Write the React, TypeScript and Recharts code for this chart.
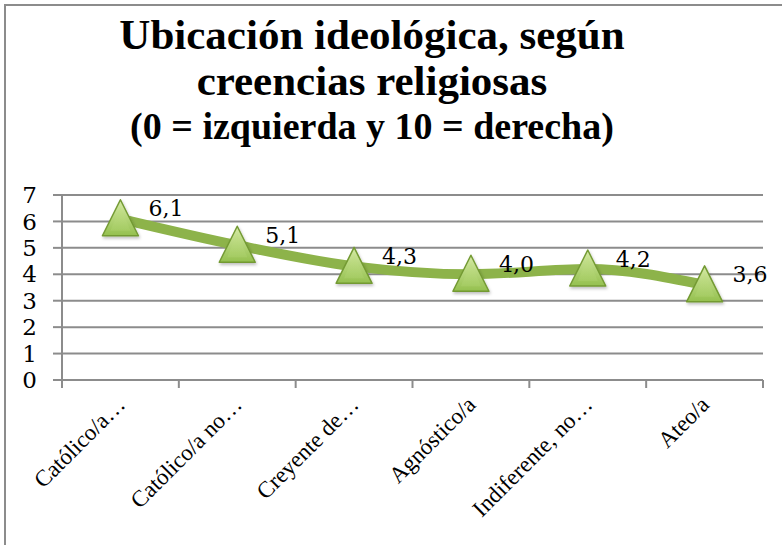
import React from "react";
import { CartesianGrid, LabelList, Line, LineChart, XAxis, YAxis } from "recharts";

const categories = [
  "Católico/a…",
  "Católico/a no…",
  "Creyente de…",
  "Agnóstico/a",
  "Indiferente, no…",
  "Ateo/a",
];
const values = [6.1, 5.1, 4.3, 4.0, 4.2, 3.6];
const yTicks = [0, 1, 2, 3, 4, 5, 6, 7];
const titleLines = [
  "Ubicación ideológica, según",
  "creencias religiosas",
  "(0 = izquierda y 10 = derecha)",
];

// line points sit in the middle of each category slot, tick marks on the slot edges
const data = categories.map((name, i) => ({ pos: i + 0.5, name, value: values[i] }));
const xTicks = [...categories.flatMap((_, i) => [i, i + 0.5]), categories.length];

const gridColor = "#8c8c8c";
const lineColor = "#8db34a";
const serif = "'Liberation Serif', 'Times New Roman', Times, serif";
const labelSerif = "'DejaVu Serif', serif";

function CategoryTick(props: any) {
  const { x, y, payload } = props;
  const v = payload.value;
  if (Number.isInteger(v)) {
    return <line x1={x} x2={x} y1={y - 10} y2={y - 2} stroke={gridColor} strokeWidth={2} />;
  }
  const label = categories[Math.floor(v)];
  const ax = x + 6;
  const ay = y + 16;
  return (
    <text
      x={ax}
      y={ay}
      transform={`rotate(-45 ${ax} ${ay})`}
      textAnchor="end"
      style={{ fontFamily: serif }}
      fontSize={23}
      fill="#000"
    >
      {label}
    </text>
  );
}

function TriangleDot(props: any) {
  const { cx, cy, index } = props;
  if (cx == null || cy == null) return null;
  return (
    <g key={`tri-${index}`} filter="url(#triShadow)">
      <polygon
        points={`${cx},${cy - 19} ${cx + 18},${cy + 17} ${cx - 18},${cy + 17}`}
        fill="url(#triFill)"
        stroke="#739a33"
        strokeWidth={1.5}
        strokeLinejoin="round"
      />
      <polygon
        points={`${cx},${cy - 12} ${cx + 10},${cy + 12} ${cx - 10},${cy + 12}`}
        fill="url(#triInner)"
        opacity={0.6}
      />
    </g>
  );
}

function ValueLabel(props: any) {
  const x = props.x ?? props.viewBox?.x;
  const y = props.y ?? props.viewBox?.y;
  if (x == null || y == null) return null;
  const text = Number(props.value).toFixed(1).replace(".", ",");
  return (
    <text
      x={x + 28}
      y={y - 10}
      dominantBaseline="central"
      style={{ fontFamily: labelSerif }}
      fontSize={22}
      fill="#000"
    >
      {text}
    </text>
  );
}

export default function App() {
  return (
    <div
      style={{
        position: "relative",
        width: 782,
        height: 545,
        background: "#fff",
        overflow: "hidden",
      }}
    >
      <style>{`body{margin:0;}`}</style>
      <div
        style={{
          position: "absolute",
          left: 4,
          top: 4,
          right: 0,
          bottom: 0,
          borderTop: `2px solid ${gridColor}`,
          borderLeft: `2px solid ${gridColor}`,
        }}
      />
      <div
        style={{
          position: "absolute",
          left: 0,
          width: 744,
          top: 11,
          textAlign: "center",
          fontFamily: serif,
          fontWeight: 700,
          color: "#000",
        }}
      >
        <div style={{ fontSize: 43, lineHeight: "47px" }}>{titleLines[0]}</div>
        <div style={{ fontSize: 43, lineHeight: "46px" }}>{titleLines[1]}</div>
        <div style={{ fontSize: 38, lineHeight: "44px" }}>{titleLines[2]}</div>
      </div>
      <div style={{ position: "absolute", left: 0, top: 0 }}>
        <LineChart
          width={782}
          height={545}
          data={data}
          margin={{ top: 195, right: 19, bottom: 65, left: 12 }}
        >
          <defs>
            <linearGradient id="triFill" x1="0" y1="0" x2="0" y2="1">
              <stop offset="0%" stopColor="#d6eaa6" />
              <stop offset="100%" stopColor="#94c04e" />
            </linearGradient>
            <linearGradient id="triInner" x1="0" y1="0" x2="0" y2="1">
              <stop offset="0%" stopColor="#c4e08a" />
              <stop offset="100%" stopColor="#a9cf68" />
            </linearGradient>
            <filter id="triShadow" x="-30%" y="-30%" width="160%" height="160%">
              <feDropShadow dx="1" dy="2" stdDeviation="1.5" floodColor="#000" floodOpacity="0.25" />
            </filter>
          </defs>
          <CartesianGrid vertical={false} stroke={gridColor} strokeWidth={2} />
          <XAxis
            dataKey="pos"
            type="number"
            domain={[0, categories.length]}
            ticks={xTicks}
            interval={0}
            height={100}
            tickSize={8}
            tickMargin={2}
            tickLine={false}
            axisLine={{ stroke: gridColor, strokeWidth: 2 }}
            tick={<CategoryTick />}
          />
          <YAxis
            type="number"
            domain={[0, 7]}
            ticks={yTicks}
            interval={0}
            width={50}
            tickSize={9}
            tickMargin={16}
            axisLine={{ stroke: gridColor, strokeWidth: 2 }}
            tickLine={{ stroke: gridColor, strokeWidth: 2 }}
            tick={{ style: { fontFamily: labelSerif }, fontSize: 23, fill: "#000" }}
          />
          <Line
            type="monotone"
            dataKey="value"
            stroke={lineColor}
            strokeWidth={10}
            dot={<TriangleDot />}
            activeDot={false}
            isAnimationActive={false}
          >
            <LabelList dataKey="value" content={<ValueLabel />} />
          </Line>
        </LineChart>
      </div>
    </div>
  );
}
